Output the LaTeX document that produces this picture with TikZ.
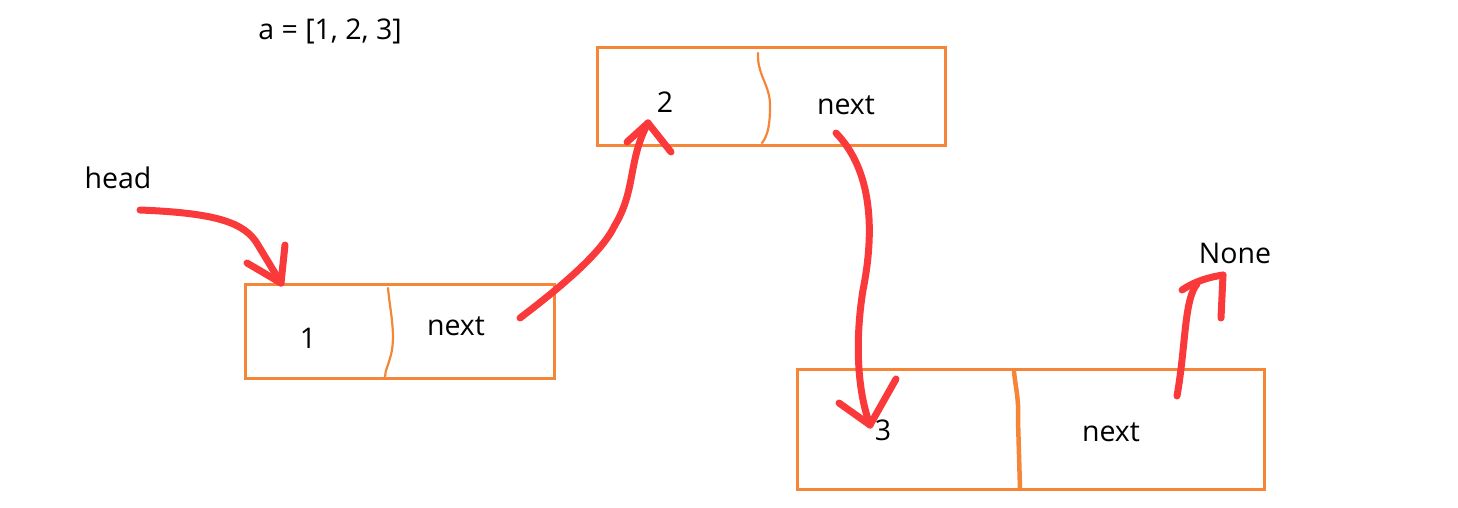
\documentclass[tikz,border=0pt]{standalone}
\usepackage{fontspec}
\setmainfont{Open Sans}
\begin{document}
\begin{tikzpicture}[x=1pt,y=-1pt,
  cell/.style={draw=boxorange, line width=3pt, minimum width=#1},
  lbl/.style={font=\fontsize{28.5}{32}\selectfont, inner sep=0pt},
  divider/.style={draw=boxorange, line width=2.2pt, line cap=round},
  pen/.style={draw=penred, line width=7pt, line cap=round, line join=round}]
\definecolor{boxorange}{RGB}{245,134,55}
\definecolor{penred}{RGB}{250,58,58}
\useasboundingbox (0,0) rectangle (1458,507);

% list nodes
\node[cell=309pt, minimum height=94pt] (n1) at (399.5,331) {};
\node[cell=348pt, minimum height=98pt] (n2) at (771,96) {};
\node[cell=467pt, minimum height=120pt] (n3) at (1030.5,429) {};

% hand-drawn field separators
\draw[divider] (388,288) .. controls (390,310) and (395,330) .. (392,350)
  .. controls (389,365) and (385,370) .. (385,377);
\draw[divider] (758,53) .. controls (757,75) and (770,85) .. (770,105)
  .. controls (770,125) and (768,135) .. (762,143);
\draw[divider, line width=4.5pt] (1014,372) .. controls (1016,390) and (1019,400) .. (1018,420) -- (1020,489);

% labels
\node[lbl] (t1) at (308,338) {1};
\node[lbl] (p1) at (456,326) {next};
\node[lbl] (t2) at (665,102) {2};
\node[lbl] (p2) at (846,105) {next};
\node[lbl] (t3) at (883,430) {3};
\node[lbl] (p3) at (1111,432) {next};
\node[lbl] (arr) at (330,31) {a = [1, 2, 3]};
\node[lbl] (head) at (118,178) {head};
\node[lbl] (none) at (1235,253) {None};

% pointer ends
\coordinate (h0) at (140,210);
\coordinate (h1) at (281,283);
\coordinate (a0) at (520,318);
\coordinate (a1) at (648,123);
\coordinate (b0) at (836,133);
\coordinate (b1) at (870,425);
\coordinate (c0) at (1177,396);
\coordinate (c1) at (1223,275);

% head -> node 1
\draw[pen] (h0) .. controls (215,213) and (245,222) .. (258,245) -- (h1);
\draw[pen] (h1) -- (247,263);
\draw[pen] (h1) -- (285,245);

% node 1 -> node 2
\draw[pen] (a0) .. controls (570,280) and (603,250) .. (615,225)
  .. controls (636,190) and (628,160) .. (a1);
\draw[pen] (a1) -- (627,142);
\draw[pen] (a1) -- (671,152);

% node 2 -> node 3
\draw[pen] (b0) .. controls (872,170) and (875,230) .. (863,290)
  .. controls (855,340) and (857,390) .. (b1);
\draw[pen] (b1) -- (839,403);
\draw[pen] (b1) -- (896,379);

% node 3 -> None
\draw[pen] (c0) .. controls (1186,345) and (1184,300) .. (1197,284);
\draw[pen] (1182,290) .. controls (1195,281) and (1210,277) .. (c1);
\draw[pen] (c1) -- (1221,318);
\end{tikzpicture}
\end{document}
